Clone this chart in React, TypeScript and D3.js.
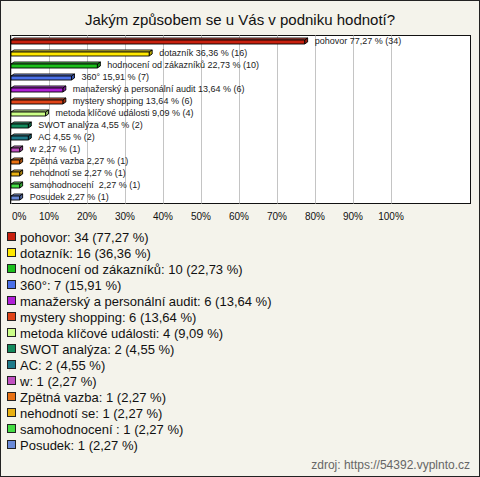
import React from "react";
import * as d3 from "d3";

const TITLE = "Jakým způsobem se u Vás v podniku hodnotí?";
const SOURCE = "zdroj: https://54392.vyplnto.cz";
const categories = [
  "pohovor",
  "dotazník",
  "hodnocení od zákazníků",
  "360°",
  "manažerský a personální audit",
  "mystery shopping",
  "metoda klíčové události",
  "SWOT analýza",
  "AC",
  "w",
  "Zpětná vazba",
  "nehodnotí se",
  "samohodnocení ",
  "Posudek",
];
const counts = [34, 16, 10, 7, 6, 6, 4, 2, 2, 1, 1, 1, 1, 1];
const percents = [77.27, 36.36, 22.73, 15.91, 13.64, 13.64, 9.09, 4.55, 4.55, 2.27, 2.27, 2.27, 2.27, 2.27];
const colors = [
  "#c8200e",
  "#ffe800",
  "#1cc01c",
  "#4a70e8",
  "#b020d8",
  "#e04418",
  "#ccff88",
  "#128a5c",
  "#1e7a8a",
  "#c050c0",
  "#e87012",
  "#e8b012",
  "#44dd44",
  "#6a8ad8",
];
const ticks = [0, 10, 20, 30, 40, 50, 60, 70, 80, 90, 100];

const W = 480;
const H = 477;
const fmt = (v: number) => v.toFixed(2).replace(".", ",");

export default function App() {
  const plot = { left: 10.5, right: 470.5, top: 35.5, bottom: 203.5 };
  const x = d3.scaleLinear().domain([0, 100]).range([11, 391]);
  const y = d3.scaleBand<string>().domain(categories).range([35, 203]);
  const legendY = d3.scaleBand<string>().domain(categories).range([229, 453]);
  const font = "Arial, 'Liberation Sans', sans-serif";
  const fh = 4; // front height
  const dx = 3;
  const dy = 2;

  return (
    <div style={{ position: "absolute", left: 0, top: 0 }}>
      <svg width={W} height={H} style={{ display: "block" }}>
        <rect x={0.5} y={0.5} width={W - 1} height={H - 1} fill="#f4f3eb" stroke="#222" strokeWidth={1} />
        <text x={240} y={25} textAnchor="middle" fontFamily={font} fontSize={15} fill="#111">
          {TITLE}
        </text>
        <rect x={plot.left} y={plot.top} width={plot.right - plot.left} height={plot.bottom - plot.top} fill="#fff" stroke="#111" strokeWidth={1} />
        {ticks.map((t) => (
          <line key={t} x1={Math.round(x(t)) + 0.5} x2={Math.round(x(t)) + 0.5} y1={plot.top} y2={plot.bottom} stroke="#c4c4c4" strokeWidth={1} />
        ))}
        {categories.map((c, i) => {
          const cy = (y(c) as number) + y.bandwidth() / 2;
          const x0 = x(0);
          const x1 = x(percents[i]);
          const top = cy - fh / 2 + 1;
          const bot = top + fh;
          const base = d3.color(colors[i])!;
          const light = d3.interpolateRgb(colors[i], "#ffffff")(0.25);
          const dark = base.darker(0.8).toString();
          const front = `${x0},${top} ${x1},${top} ${x1},${bot} ${x0},${bot}`;
          const topFace = `${x0},${top} ${x0 + dx},${top - dy} ${x1 + dx},${top - dy} ${x1},${top}`;
          const side = `${x1},${top} ${x1 + dx},${top - dy} ${x1 + dx},${bot - dy} ${x1},${bot}`;
          return (
            <g key={c}>
              <polygon points={topFace} fill={light} stroke="#000" strokeWidth={0.9} strokeLinejoin="round" />
              <polygon points={side} fill={dark} stroke="#000" strokeWidth={0.9} strokeLinejoin="round" />
              <polygon points={front} fill={colors[i]} stroke="#000" strokeWidth={0.9} strokeLinejoin="round" />
              <text
                x={x1 + dx + 7}
                y={cy + 3}
                fontFamily={font}
                fontSize={9}
                fill="#222"
                style={{ whiteSpace: "pre" }}
              >
                {`${c} ${fmt(percents[i])} % (${counts[i]})`}
              </text>
            </g>
          );
        })}
        {ticks.map((t) => (
          <text
            key={"l" + t}
            x={t === 0 ? 12 : x(t)}
            y={220}
            textAnchor={t === 0 ? "start" : "middle"}
            fontFamily={font}
            fontSize={10}
            fill="#111"
          >
            {`${t}%`}
          </text>
        ))}
        {categories.map((c, i) => {
          const cy = (legendY(c) as number) + legendY.bandwidth() / 2;
          return (
            <g key={"lg" + c}>
              <rect x={7.5} y={cy - 4.5} width={8} height={8} fill={colors[i]} stroke="#222" strokeWidth={1} />
              <text x={20} y={cy + 4.5} fontFamily={font} fontSize={13} fill="#111" style={{ whiteSpace: "pre" }}>
                {`${c}: ${counts[i]} (${fmt(percents[i])} %)`}
              </text>
            </g>
          );
        })}
        <text x={470} y={469} textAnchor="end" fontFamily={font} fontSize={12} fill="#666">
          {SOURCE}
        </text>
      </svg>
    </div>
  );
}
